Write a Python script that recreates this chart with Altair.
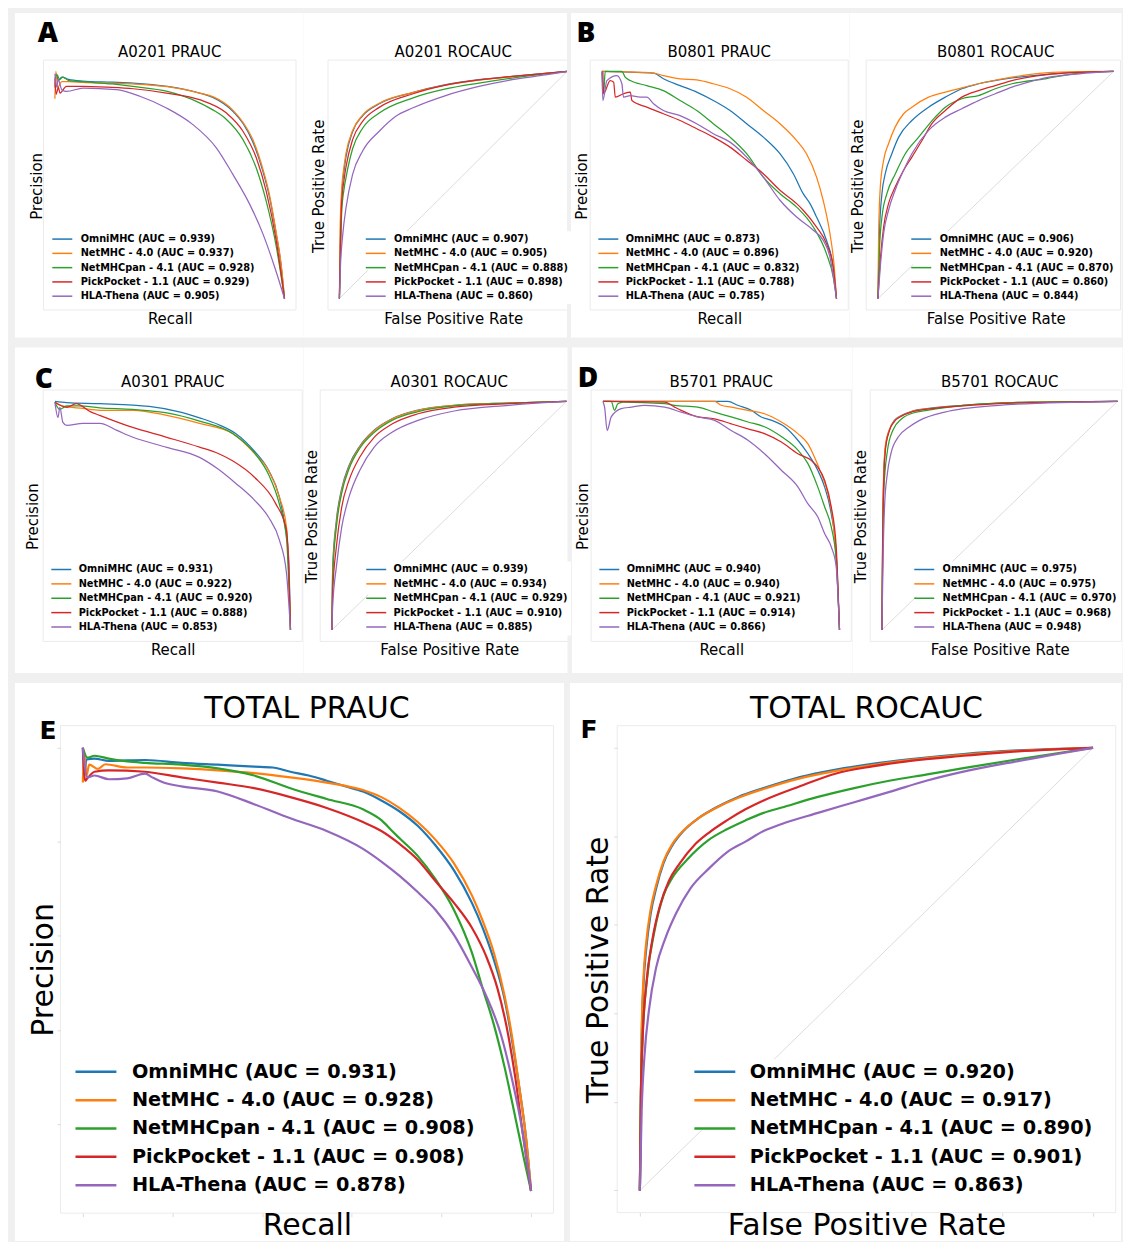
import math
import altair as alt
import pandas as pd

FONT = "DejaVu Sans"
METHODS = ["OmniMHC", "NetMHC - 4.0", "NetMHCpan - 4.1", "PickPocket - 1.1", "HLA-Thena"]
COLORS = ["#1f77b4", "#ff7f0e", "#2ca02c", "#d62728", "#9467bd"]

A_PR_AUC = [0.939, 0.937, 0.928, 0.929, 0.905]
A_ROC_AUC = [0.907, 0.905, 0.888, 0.898, 0.860]
B_PR_AUC = [0.873, 0.896, 0.832, 0.788, 0.785]
B_ROC_AUC = [0.906, 0.920, 0.870, 0.860, 0.844]
C_PR_AUC = [0.931, 0.922, 0.920, 0.888, 0.853]
C_ROC_AUC = [0.939, 0.934, 0.929, 0.910, 0.885]
D_PR_AUC = [0.940, 0.940, 0.921, 0.914, 0.866]
D_ROC_AUC = [0.975, 0.975, 0.970, 0.968, 0.948]
E_PR_AUC = [0.931, 0.928, 0.908, 0.908, 0.878]
F_ROC_AUC = [0.920, 0.917, 0.890, 0.901, 0.863]

# ---------------- A0201 PR (recall, scaled precision) ----------------
A_PR_OMNI = [[0, 0.93], [0.006, 0.99], [0.015, 0.96], [0.03, 0.975], [0.06, 0.965], [0.12, 0.958], [0.25, 0.953], [0.34, 0.949], [0.49, 0.934], [0.63, 0.905], [0.69, 0.885], [0.775, 0.825], [0.82, 0.77], [0.862, 0.69], [0.906, 0.56], [0.935, 0.445], [0.964, 0.285], [0.986, 0.14], [1, 0]]
A_PR_NETMHC = [[0, 0.88], [0.004, 1.0], [0.012, 0.93], [0.03, 0.955], [0.06, 0.955], [0.12, 0.952], [0.25, 0.948], [0.34, 0.945], [0.49, 0.933], [0.63, 0.905], [0.69, 0.888], [0.775, 0.83], [0.82, 0.775], [0.862, 0.70], [0.906, 0.57], [0.935, 0.455], [0.964, 0.29], [0.986, 0.145], [1, 0]]
A_PR_NETMHCPAN = [[0, 0.97], [0.01, 0.985], [0.02, 0.965], [0.035, 0.975], [0.06, 0.96], [0.12, 0.955], [0.25, 0.945], [0.34, 0.934], [0.49, 0.912], [0.63, 0.862], [0.69, 0.83], [0.746, 0.79], [0.819, 0.70], [0.877, 0.575], [0.92, 0.43], [0.964, 0.23], [1, 0]]
A_PR_PICKPOCKET = [[0, 0.97], [0.005, 0.90], [0.015, 0.93], [0.022, 0.905], [0.05, 0.935], [0.12, 0.934], [0.25, 0.93], [0.341, 0.924], [0.486, 0.905], [0.63, 0.876], [0.746, 0.818], [0.819, 0.737], [0.877, 0.62], [0.92, 0.474], [0.964, 0.255], [1, 0]]
A_PR_HLATHENA = [[0, 0.99], [0.008, 0.93], [0.014, 0.965], [0.03, 0.92], [0.051, 0.912], [0.123, 0.927], [0.268, 0.92], [0.37, 0.891], [0.486, 0.839], [0.601, 0.766], [0.703, 0.664], [0.775, 0.547], [0.848, 0.416], [0.906, 0.285], [0.957, 0.139], [1, 0]]

# ---------------- A0201 ROC (fpr, tpr) ----------------
A_ROC_OMNI = [[0, 0], [0.004, 0.25], [0.01, 0.45], [0.02, 0.56], [0.029, 0.625], [0.058, 0.735], [0.102, 0.805], [0.175, 0.858], [0.321, 0.907], [0.467, 0.942], [0.613, 0.964], [0.759, 0.978], [1, 1]]
A_ROC_NETMHC = [[0, 0], [0.003, 0.3], [0.01, 0.48], [0.02, 0.58], [0.029, 0.64], [0.058, 0.74], [0.102, 0.808], [0.175, 0.86], [0.321, 0.907], [0.467, 0.94], [0.613, 0.962], [0.759, 0.977], [1, 1]]
A_ROC_NETMHCPAN = [[0, 0], [0.005, 0.2], [0.01, 0.38], [0.02, 0.48], [0.029, 0.533], [0.058, 0.66], [0.102, 0.75], [0.175, 0.817], [0.321, 0.883], [0.467, 0.923], [0.613, 0.949], [0.759, 0.971], [1, 1]]
A_ROC_PICKPOCKET = [[0, 0], [0.004, 0.22], [0.01, 0.42], [0.02, 0.52], [0.029, 0.58], [0.058, 0.70], [0.102, 0.78], [0.175, 0.842], [0.321, 0.901], [0.467, 0.94], [0.613, 0.963], [0.759, 0.978], [1, 1]]
A_ROC_HLATHENA = [[0, 0], [0.005, 0.15], [0.015, 0.285], [0.029, 0.40], [0.058, 0.547], [0.102, 0.65], [0.175, 0.737], [0.248, 0.803], [0.321, 0.839], [0.467, 0.894], [0.613, 0.934], [0.759, 0.964], [0.905, 0.985], [1, 1]]

# ---------------- B0801 PR ----------------
B_PR_OMNI = [[0, 1.0], [0.121, 0.997], [0.22, 0.993], [0.262, 0.968], [0.333, 0.938], [0.404, 0.909], [0.475, 0.872], [0.546, 0.828], [0.617, 0.77], [0.688, 0.711], [0.759, 0.638], [0.816, 0.55], [0.858, 0.462], [0.887, 0.418], [0.915, 0.359], [0.957, 0.257], [0.986, 0.139], [1, 0]]
B_PR_NETMHC = [[0, 1.0], [0.22, 0.993], [0.262, 0.982], [0.333, 0.968], [0.404, 0.963], [0.475, 0.946], [0.546, 0.924], [0.617, 0.887], [0.688, 0.828], [0.759, 0.77], [0.83, 0.696], [0.872, 0.638], [0.915, 0.535], [0.943, 0.433], [0.972, 0.286], [0.989, 0.154], [1, 0]]
B_PR_NETMHCPAN = [[0, 1.0], [0.007, 0.902], [0.014, 1.0], [0.085, 1.0], [0.099, 0.975], [0.121, 0.96], [0.191, 0.938], [0.262, 0.916], [0.333, 0.872], [0.404, 0.828], [0.475, 0.77], [0.546, 0.711], [0.617, 0.638], [0.688, 0.535], [0.759, 0.462], [0.83, 0.403], [0.901, 0.315], [0.957, 0.198], [0.986, 0.095], [1, 0]]
B_PR_PICKPOCKET = [[0.004, 1.0], [0.007, 0.902], [0.035, 0.96], [0.05, 0.953], [0.057, 0.887], [0.092, 0.902], [0.121, 0.909], [0.128, 0.872], [0.191, 0.843], [0.262, 0.814], [0.333, 0.784], [0.404, 0.748], [0.475, 0.711], [0.546, 0.667], [0.617, 0.609], [0.688, 0.55], [0.759, 0.477], [0.83, 0.418], [0.858, 0.389], [0.915, 0.315], [0.957, 0.242], [0.986, 0.139], [1, 0]]
B_PR_HLATHENA = [[0, 1.0], [0.004, 0.872], [0.021, 0.96], [0.064, 0.982], [0.085, 0.946], [0.092, 0.887], [0.121, 0.894], [0.163, 0.887], [0.191, 0.887], [0.22, 0.858], [0.262, 0.828], [0.333, 0.806], [0.404, 0.77], [0.475, 0.726], [0.546, 0.689], [0.617, 0.623], [0.688, 0.535], [0.759, 0.433], [0.83, 0.359], [0.901, 0.301], [0.943, 0.257], [0.972, 0.183], [1, 0]]

# ---------------- B0801 ROC ----------------
B_ROC_OMNI = [[0, 0], [0.006, 0.286], [0.017, 0.462], [0.031, 0.55], [0.059, 0.638], [0.088, 0.711], [0.144, 0.784], [0.215, 0.843], [0.286, 0.887], [0.356, 0.924], [0.427, 0.946], [0.569, 0.972], [0.71, 0.987], [0.854, 0.997], [1, 1]]
B_ROC_NETMHC = [[0, 0], [0.003, 0.286], [0.01, 0.491], [0.024, 0.609], [0.045, 0.682], [0.073, 0.755], [0.109, 0.814], [0.144, 0.843], [0.215, 0.887], [0.286, 0.909], [0.356, 0.928], [0.427, 0.946], [0.569, 0.975], [0.71, 0.994], [0.854, 0.999], [1, 1]]
B_ROC_NETMHCPAN = [[0, 0], [0.007, 0.227], [0.017, 0.359], [0.038, 0.462], [0.074, 0.55], [0.116, 0.638], [0.173, 0.711], [0.243, 0.799], [0.286, 0.843], [0.356, 0.88], [0.427, 0.894], [0.498, 0.924], [0.569, 0.946], [0.71, 0.968], [0.854, 0.993], [1, 1]]
B_ROC_PICKPOCKET = [[0, 0], [0.01, 0.169], [0.024, 0.315], [0.045, 0.418], [0.073, 0.491], [0.109, 0.565], [0.144, 0.623], [0.187, 0.696], [0.229, 0.77], [0.286, 0.828], [0.356, 0.887], [0.427, 0.916], [0.498, 0.938], [0.569, 0.96], [0.71, 0.985], [0.854, 0.996], [1, 1]]
B_ROC_HLATHENA = [[0, 0], [0.01, 0.139], [0.024, 0.286], [0.045, 0.389], [0.073, 0.477], [0.109, 0.565], [0.144, 0.638], [0.215, 0.741], [0.286, 0.799], [0.356, 0.836], [0.427, 0.872], [0.498, 0.902], [0.569, 0.931], [0.639, 0.953], [0.71, 0.972], [0.854, 0.99], [1, 1]]

# ---------------- A0301 PR ----------------
C_PR_OMNI = [[0, 1.0], [0.05, 0.995], [0.19, 0.99], [0.40, 0.978], [0.538, 0.952], [0.614, 0.928], [0.691, 0.90], [0.767, 0.86], [0.847, 0.782], [0.907, 0.699], [0.953, 0.581], [0.975, 0.467], [0.992, 0.319], [1, 0]]
C_PR_NETMHC = [[0, 0.996], [0.03, 0.98], [0.119, 0.969], [0.191, 0.961], [0.331, 0.961], [0.475, 0.939], [0.614, 0.904], [0.754, 0.86], [0.847, 0.773], [0.907, 0.699], [0.953, 0.581], [0.983, 0.45], [1, 0]]
C_PR_NETMHCPAN = [[0, 0.996], [0.02, 0.965], [0.05, 0.98], [0.10, 0.98], [0.19, 0.972], [0.33, 0.965], [0.475, 0.95], [0.614, 0.914], [0.754, 0.86], [0.847, 0.775], [0.907, 0.68], [0.953, 0.55], [0.983, 0.40], [1, 0]]
C_PR_PICKPOCKET = [[0, 0.996], [0.05, 0.974], [0.09, 0.99], [0.15, 0.955], [0.19, 0.939], [0.33, 0.886], [0.475, 0.843], [0.614, 0.80], [0.691, 0.773], [0.754, 0.74], [0.847, 0.668], [0.936, 0.555], [0.983, 0.437], [0.995, 0.2], [1, 0]]
C_PR_HLATHENA = [[0, 0.996], [0.013, 0.93], [0.021, 0.974], [0.034, 0.908], [0.05, 0.895], [0.119, 0.904], [0.191, 0.904], [0.263, 0.873], [0.331, 0.843], [0.475, 0.799], [0.614, 0.755], [0.691, 0.705], [0.767, 0.642], [0.847, 0.568], [0.907, 0.493], [0.953, 0.393], [0.983, 0.249], [1, 0]]

# ---------------- A0301 ROC ----------------
C_ROC_OMNI = [[0, 0], [0.003, 0.27], [0.019, 0.48], [0.042, 0.62], [0.073, 0.72], [0.119, 0.805], [0.181, 0.875], [0.258, 0.925], [0.367, 0.962], [0.521, 0.983], [0.754, 0.993], [1, 1]]
C_ROC_NETMHC = [[0, 0], [0.003, 0.25], [0.019, 0.466], [0.042, 0.611], [0.073, 0.713], [0.119, 0.801], [0.181, 0.873], [0.258, 0.924], [0.367, 0.961], [0.521, 0.983], [0.754, 0.993], [1, 1]]
C_ROC_NETMHCPAN = [[0, 0], [0.003, 0.23], [0.019, 0.45], [0.042, 0.60], [0.073, 0.705], [0.119, 0.795], [0.181, 0.865], [0.258, 0.918], [0.367, 0.955], [0.521, 0.98], [0.754, 0.992], [1, 1]]
C_ROC_PICKPOCKET = [[0, 0], [0.003, 0.16], [0.019, 0.364], [0.042, 0.539], [0.073, 0.655], [0.119, 0.757], [0.181, 0.844], [0.258, 0.902], [0.367, 0.946], [0.521, 0.975], [0.754, 0.99], [1, 1]]
C_ROC_HLATHENA = [[0, 0], [0.003, 0.10], [0.019, 0.276], [0.042, 0.451], [0.073, 0.582], [0.119, 0.699], [0.181, 0.801], [0.258, 0.866], [0.367, 0.917], [0.521, 0.958], [0.754, 0.983], [1, 1]]

# ---------------- B5701 PR ----------------
D_PR_OMNI = [[0, 1.0], [0.528, 1.0], [0.57, 0.983], [0.627, 0.961], [0.669, 0.932], [0.711, 0.918], [0.768, 0.889], [0.824, 0.83], [0.866, 0.772], [0.908, 0.699], [0.937, 0.626], [0.965, 0.509], [0.986, 0.335], [1, 0]]
D_PR_NETMHC = [[0, 1.0], [0.472, 1.0], [0.5, 0.983], [0.542, 0.975], [0.613, 0.961], [0.683, 0.946], [0.754, 0.91], [0.824, 0.859], [0.866, 0.815], [0.894, 0.757], [0.923, 0.684], [0.951, 0.597], [0.972, 0.48], [0.986, 0.32], [1, 0]]
D_PR_NETMHCPAN = [[0, 1.0], [0.035, 1.0], [0.049, 0.961], [0.063, 0.99], [0.085, 0.997], [0.261, 0.99], [0.303, 0.983], [0.401, 0.975], [0.472, 0.953], [0.542, 0.932], [0.613, 0.91], [0.683, 0.889], [0.754, 0.846], [0.824, 0.787], [0.866, 0.729], [0.908, 0.626], [0.937, 0.539], [0.965, 0.451], [0.986, 0.306], [1, 0]]
D_PR_PICKPOCKET = [[0, 1.0], [0.261, 0.997], [0.303, 0.975], [0.331, 0.961], [0.401, 0.932], [0.472, 0.924], [0.542, 0.902], [0.613, 0.88], [0.683, 0.859], [0.754, 0.822], [0.824, 0.771], [0.88, 0.742], [0.908, 0.713], [0.937, 0.655], [0.965, 0.539], [0.986, 0.364], [1, 0]]
D_PR_HLATHENA = [[0, 1.0], [0.007, 0.975], [0.018, 0.873], [0.035, 0.932], [0.077, 0.968], [0.12, 0.975], [0.176, 0.983], [0.261, 0.975], [0.331, 0.953], [0.401, 0.932], [0.472, 0.917], [0.542, 0.873], [0.613, 0.83], [0.683, 0.771], [0.754, 0.699], [0.824, 0.626], [0.866, 0.553], [0.908, 0.495], [0.937, 0.422], [0.965, 0.364], [0.986, 0.277], [1, 0]]

# ---------------- B5701 ROC ----------------
D_ROC_OMNI = [[0, 0], [0.003, 0.393], [0.008, 0.684], [0.015, 0.80], [0.031, 0.873], [0.053, 0.917], [0.084, 0.939], [0.13, 0.958], [0.191, 0.968], [0.344, 0.983], [0.496, 0.993], [0.649, 0.997], [1, 1]]
D_ROC_NETMHC = [[0, 0], [0.003, 0.42], [0.008, 0.70], [0.015, 0.81], [0.031, 0.875], [0.053, 0.915], [0.084, 0.937], [0.13, 0.957], [0.191, 0.967], [0.344, 0.982], [0.496, 0.993], [0.649, 0.997], [1, 1]]
D_ROC_NETMHCPAN = [[0, 0], [0.003, 0.32], [0.008, 0.61], [0.023, 0.782], [0.046, 0.873], [0.084, 0.924], [0.145, 0.953], [0.191, 0.961], [0.344, 0.983], [0.496, 0.993], [1, 1]]
D_ROC_PICKPOCKET = [[0, 0], [0.003, 0.36], [0.008, 0.66], [0.015, 0.79], [0.031, 0.87], [0.053, 0.912], [0.084, 0.936], [0.13, 0.955], [0.191, 0.966], [0.344, 0.98], [0.496, 0.99], [0.649, 0.995], [0.85, 0.998], [1, 1]]
D_ROC_HLATHENA = [[0, 0], [0.005, 0.32], [0.011, 0.539], [0.023, 0.684], [0.038, 0.771], [0.069, 0.844], [0.115, 0.888], [0.16, 0.917], [0.267, 0.953], [0.344, 0.968], [0.496, 0.983], [0.802, 0.996], [1, 1]]

# ---------------- TOTAL PR (recall, precision) ----------------
E_PR_OMNI = [[0, 1.0], [0.003, 0.94], [0.008, 0.975], [0.026, 0.977], [0.058, 0.972], [0.139, 0.974], [0.22, 0.968], [0.301, 0.964], [0.382, 0.96], [0.423, 0.958], [0.463, 0.949], [0.504, 0.941], [0.544, 0.93], [0.585, 0.918], [0.625, 0.907], [0.666, 0.888], [0.706, 0.865], [0.747, 0.834], [0.787, 0.792], [0.828, 0.739], [0.868, 0.67], [0.892, 0.617], [0.917, 0.549], [0.941, 0.465], [0.957, 0.381], [0.973, 0.282], [0.989, 0.168], [1, 0.057]]
E_PR_NETMHC = [[0, 0.926], [0.003, 0.99], [0.008, 0.94], [0.014, 0.964], [0.034, 0.955], [0.05, 0.965], [0.099, 0.958], [0.139, 0.958], [0.22, 0.956], [0.301, 0.952], [0.382, 0.946], [0.463, 0.937], [0.544, 0.926], [0.625, 0.91], [0.666, 0.895], [0.706, 0.872], [0.747, 0.842], [0.787, 0.804], [0.828, 0.754], [0.868, 0.686], [0.892, 0.632], [0.917, 0.564], [0.941, 0.472], [0.957, 0.389], [0.973, 0.282], [0.989, 0.168], [1, 0.057]]
E_PR_NETMHCPAN = [[0, 1.0], [0.01, 0.979], [0.026, 0.983], [0.058, 0.977], [0.099, 0.971], [0.139, 0.968], [0.22, 0.964], [0.301, 0.956], [0.382, 0.941], [0.463, 0.914], [0.544, 0.891], [0.625, 0.869], [0.666, 0.846], [0.69, 0.823], [0.706, 0.808], [0.747, 0.77], [0.787, 0.72], [0.828, 0.655], [0.868, 0.564], [0.892, 0.488], [0.917, 0.411], [0.941, 0.32], [0.965, 0.213], [0.985, 0.122], [1, 0.057]]
E_PR_PICKPOCKET = [[0, 1.0], [0.005, 0.93], [0.01, 0.935], [0.026, 0.949], [0.058, 0.952], [0.139, 0.949], [0.22, 0.937], [0.301, 0.926], [0.382, 0.914], [0.463, 0.895], [0.544, 0.872], [0.625, 0.842], [0.666, 0.823], [0.706, 0.796], [0.747, 0.762], [0.787, 0.716], [0.828, 0.67], [0.868, 0.617], [0.9, 0.556], [0.925, 0.488], [0.949, 0.389], [0.965, 0.297], [0.981, 0.183], [1, 0.057]]
E_PR_HLATHENA = [[0, 1.0], [0.01, 0.937], [0.026, 0.941], [0.058, 0.933], [0.099, 0.935], [0.139, 0.945], [0.155, 0.937], [0.18, 0.926], [0.22, 0.918], [0.301, 0.907], [0.382, 0.88], [0.463, 0.85], [0.544, 0.823], [0.625, 0.785], [0.666, 0.758], [0.706, 0.728], [0.747, 0.693], [0.787, 0.655], [0.828, 0.602], [0.868, 0.533], [0.9, 0.472], [0.933, 0.389], [0.957, 0.297], [0.981, 0.183], [1, 0.057]]

# ---------------- TOTAL ROC ----------------
F_ROC_OMNI = [[0, 0], [0.002, 0.181], [0.004, 0.343], [0.008, 0.464], [0.014, 0.545], [0.024, 0.626], [0.036, 0.683], [0.052, 0.739], [0.072, 0.78], [0.096, 0.812], [0.128, 0.84], [0.168, 0.865], [0.217, 0.889], [0.273, 0.909], [0.353, 0.934], [0.433, 0.951], [0.513, 0.964], [0.593, 0.974], [0.714, 0.986], [0.834, 0.994], [1, 1]]
F_ROC_NETMHC = [[0, 0], [0.002, 0.19], [0.004, 0.36], [0.008, 0.48], [0.014, 0.56], [0.024, 0.636], [0.036, 0.69], [0.052, 0.743], [0.072, 0.783], [0.096, 0.813], [0.128, 0.84], [0.168, 0.864], [0.217, 0.887], [0.273, 0.907], [0.353, 0.931], [0.433, 0.948], [0.513, 0.961], [0.593, 0.972], [0.714, 0.984], [0.834, 0.993], [1, 1]]
F_ROC_NETMHCPAN = [[0, 0], [0.0024, 0.221], [0.006, 0.343], [0.016, 0.48], [0.032, 0.585], [0.052, 0.666], [0.072, 0.707], [0.104, 0.747], [0.152, 0.792], [0.192, 0.816], [0.233, 0.836], [0.273, 0.853], [0.313, 0.865], [0.393, 0.889], [0.473, 0.909], [0.553, 0.926], [0.634, 0.94], [0.714, 0.954], [0.834, 0.974], [1, 1]]
F_ROC_PICKPOCKET = [[0, 0], [0.0024, 0.221], [0.006, 0.343], [0.014, 0.464], [0.028, 0.569], [0.044, 0.642], [0.064, 0.699], [0.088, 0.739], [0.12, 0.78], [0.152, 0.808], [0.192, 0.836], [0.233, 0.861], [0.273, 0.881], [0.353, 0.913], [0.433, 0.942], [0.513, 0.958], [0.593, 0.97], [0.714, 0.982], [0.834, 0.992], [1, 1]]
F_ROC_HLATHENA = [[0, 0], [0.004, 0.181], [0.01, 0.302], [0.02, 0.407], [0.036, 0.504], [0.056, 0.569], [0.08, 0.626], [0.112, 0.683], [0.152, 0.727], [0.192, 0.764], [0.233, 0.788], [0.273, 0.812], [0.313, 0.828], [0.393, 0.853], [0.473, 0.877], [0.553, 0.901], [0.634, 0.926], [0.714, 0.946], [0.834, 0.97], [1, 1]]

DIAG = [[0, 0], [1, 1]]
TICKS01 = [0, 0.2, 0.4, 0.6, 0.8, 1.0]
E_YTICKS = [0.2, 0.4, 0.6, 0.8, 1.0]

# ---------------- layout (page pixel positions; svg spans page x 8..1123, y 8..1242) ----------------
# view = (left, top, width, height); bg = white panel box inside the view (x0, x1, y0)
R1Y = (298.0, 70.5)
R2Y = (630.0, 401.0)
GEOM = {
    "A_pr": dict(view=(8, 8, 296, 329), bg=(7, 296, 4), xmap=(55, 285), ymap=R1Y, title=("A0201 PRAUC", 170, 51),
                 xt=("Recall", 170, 318), yt=("Precision", 37, 185), legend=(53, 82, 239, 14.3)),
    "A_roc": dict(view=(304, 8, 264, 329), bg=(0, 264, 4), xmap=(340, 568), ymap=R1Y, title=("A0201 ROCAUC", 454, 51),
                  xt=("False Positive Rate", 454, 318), yt=("True Positive Rate", 319, 185), legend=(367, 396, 239, 14.3)),
    "B_pr": dict(view=(568, 8, 282.5, 329), bg=(4, 282.5, 4), xmap=(603, 838), ymap=R1Y, title=("B0801 PRAUC", 720.5, 51),
                 xt=("Recall", 720.5, 318), yt=("Precision", 583, 185), legend=(600, 628, 239, 14.3)),
    "B_roc": dict(view=(850.5, 8, 272.5, 329), bg=(0, 272.5, 4), xmap=(879, 1115), ymap=R1Y, title=("B0801 ROCAUC", 997, 51),
                  xt=("False Positive Rate", 997, 318), yt=("True Positive Rate", 858.5, 185), legend=(913, 942, 239, 14.3)),
    "C_pr": dict(view=(8, 345, 295.5, 328), bg=(7, 295.5, 2), xmap=(55, 291), ymap=R2Y, title=("A0301 PRAUC", 173, 381.5),
                 xt=("Recall", 173, 650), yt=("Precision", 33, 516), legend=(52, 80, 570, 14.4)),
    "C_roc": dict(view=(303.5, 345, 264.5, 328), bg=(0, 264.5, 2), xmap=(332, 567), ymap=R2Y, title=("A0301 ROCAUC", 449.5, 381.5),
                  xt=("False Positive Rate", 449.5, 650), yt=("True Positive Rate", 311.5, 516), legend=(367, 395, 570, 14.4)),
    "D_pr": dict(view=(568, 345, 284.5, 328), bg=(4, 284.5, 2), xmap=(603, 840), ymap=R2Y, title=("B5701 PRAUC", 721.5, 381.5),
                 xt=("Recall", 721.5, 650), yt=("Precision", 583, 516), legend=(600, 628, 570, 14.4)),
    "D_roc": dict(view=(852.5, 345, 270.5, 328), bg=(0, 270.5, 2), xmap=(882, 1118), ymap=R2Y, title=("B5701 ROCAUC", 1000, 381.5),
                  xt=("False Positive Rate", 1000, 650), yt=("True Positive Rate", 861, 516), legend=(915, 944, 570, 14.4)),
    "E": dict(view=(8, 681, 560, 561), bg=(7, 557, 2), xmap=(83, 532), ymap=(1192.0, 748.0), yvals=(0.057, 1.0),
              title=("TOTAL PRAUC", 307.5, 709), xt=("Recall", 307.5, 1226.5), yt=("Precision", 44, 970),
              legend=(76, 133, 1073, 28.5)),
    "F": dict(view=(568, 681, 555, 561), bg=(3, 555, 2), xmap=(641, 1095), ymap=(1191.5, 748.0),
              title=("TOTAL ROCAUC", 868, 709), xt=("False Positive Rate", 868, 1226.5), yt=("True Positive Rate", 600, 970),
              legend=(696, 752, 1073, 28.5)),
}


def curve_frame(curves, aucs):
    labels = [f"{m} (AUC = {a:.3f})" for m, a in zip(METHODS, aucs)]
    rows = []
    for lab, pts in zip(labels, curves):
        for i, (x, y) in enumerate(pts):
            rows.append({"x": x, "y": y, "label": lab, "i": i})
    return pd.DataFrame(rows), labels


def text_layer(t, px, py, ox, oy, font, size, weight):
    return alt.Chart(pd.DataFrame({"t": [t]})).mark_text(
        font=font, fontSize=size, fontWeight=weight, color="black", align="center", baseline="middle"
    ).encode(text="t:N", x=alt.value(px - ox), y=alt.value(py - oy))


def make_cell(key, curves, aucs, roc, big=False, letter=None):
    g = GEOM[key]
    ox, oy, W, H = g["view"]
    px0, px1 = g["xmap"]
    py0, py1 = g["ymap"]
    ylo, yhi = g.get("yvals", (0.0, 1.0))
    kx = float(px1 - px0)
    ky = (py0 - py1) / (yhi - ylo)
    xdom = [(ox - px0) / kx, (ox + W - px0) / kx]
    ydom = [ylo + (py0 - (oy + H)) / ky, ylo + (py0 - oy) / ky]
    m = 0.05 * (yhi - ylo)
    fl = px0 - 0.05 * kx
    fb = py0 + m * ky

    fs_t = 30 if big else 15
    fs_a = 30 if big else 15
    fs_l = 19.3 if big else 9.8
    ent_h = 20.1 if big else 11.0
    lw = 2.2 if big else 1.25
    sw = 2.5 if big else 1.5
    L = 41.0 if big else 20.0

    if big:
        xoff, yoff, xax_y, yax_x = fb - (oy + H), -(fl - ox), fb, fl
    else:
        xoff, yoff, xax_y, yax_x = 0, 0, oy + H, ox

    common = dict(labels=False, domain=False, grid=False, minExtent=0, maxExtent=0, zindex=1,
                  titleFont=FONT, titleFontSize=fs_a, titleFontWeight="normal", titleColor="black",
                  titleBaseline="middle", titleAlign="center")
    if big:
        common.update(ticks=True, tickColor="#d4d4d4", tickSize=3.5, tickWidth=0.8)
    else:
        common.update(ticks=False)
    xt, xtx, xty = g["xt"]
    yt, ytx, yty = g["yt"]
    xkw = dict(common)
    ykw = dict(common)
    if big:
        xkw["values"] = TICKS01
        ykw["values"] = TICKS01 if roc else E_YTICKS
    xaxis = alt.Axis(title=xt, offset=xoff, titleX=xtx - ox, titleY=xty - xax_y, titleAngle=0, **xkw)
    yaxis = alt.Axis(title=yt, offset=yoff, titleX=ytx - yax_x, titleY=yty - oy, titleAngle=270, **ykw)

    ls, lx, r0, rs = g["legend"]
    ssize = (L / 4.0) ** 2
    pad = 3.0
    c = ls + L / 2.0
    legend = alt.Legend(title=None, orient="none", legendX=c - pad - ent_h / 2 - ox, legendY=r0 - pad - ent_h / 2 - oy,
                        symbolType="M-4,0L4,0", symbolSize=ssize, symbolStrokeWidth=sw, symbolOffset=0,
                        labelFont=FONT, labelFontSize=fs_l, labelFontWeight="bold", labelColor="black",
                        labelOffset=lx - c - ent_h / 2, rowPadding=rs - ent_h, padding=pad, fillColor="white",
                        labelLimit=800)

    xs = alt.Scale(domain=xdom, nice=False, zero=False)
    ys = alt.Scale(domain=ydom, nice=False, zero=False)
    X = alt.X("x:Q", scale=xs, axis=xaxis)
    Y = alt.Y("y:Q", scale=ys, axis=yaxis)

    b0, b1, bt = g["bg"]
    layers = [alt.Chart(pd.DataFrame({"p": [0]})).mark_rect(color="white").encode(
        x=alt.value(b0), x2=alt.value(b1), y=alt.value(bt), y2=alt.value(H))]
    # faint axes frame (kept inside the cell on the right-hand edge of the figure)
    fx2 = min(1.05, xdom[1] - 1.0 / kx) if ox + W > 1100 else 1.05
    frame_df = pd.DataFrame({"x": [-0.05], "x2": [fx2], "y": [ylo - m], "y2": [yhi + m]})
    layers.append(alt.Chart(frame_df).mark_rect(fill="transparent", stroke="#ebebeb", strokeWidth=1, clip=True)
                  .encode(x=X, x2="x2:Q", y=Y, y2="y2:Q"))
    if roc:
        layers.append(alt.Chart(pd.DataFrame(DIAG, columns=["x", "y"]))
                      .mark_line(color="#dcdcdc", strokeWidth=1, clip=True).encode(x=X, y=Y))
    df, labels = curve_frame(curves, aucs)
    layers.append(alt.Chart(df).mark_line(strokeWidth=lw, clip=True, interpolate="monotone").encode(
        x=X, y=Y,
        color=alt.Color("label:N", scale=alt.Scale(domain=labels, range=COLORS), legend=legend),
        order="i:Q"))
    tt, ttx, tty = g["title"]
    layers.append(text_layer(tt, ttx, tty, ox, oy, FONT, fs_t, "normal"))
    if letter:
        t, tx, ty, tfont, tsize, tweight = letter
        layers.append(text_layer(t, tx, ty, ox, oy, tfont, tsize, tweight))
    return alt.layer(*layers).properties(width=W, height=H)


def row(*charts):
    return (alt.hconcat(*charts, spacing=0, bounds="flush")
            .resolve_scale(x="independent", y="independent", color="independent")
            .resolve_legend(color="independent"))


LET = ("Open Sans", 28, 800)
A_pr = make_cell("A_pr", [A_PR_OMNI, A_PR_NETMHC, A_PR_NETMHCPAN, A_PR_PICKPOCKET, A_PR_HLATHENA], A_PR_AUC, False,
                 letter=("A", 48, 33) + LET)
A_roc = make_cell("A_roc", [A_ROC_OMNI, A_ROC_NETMHC, A_ROC_NETMHCPAN, A_ROC_PICKPOCKET, A_ROC_HLATHENA], A_ROC_AUC, True)
B_pr = make_cell("B_pr", [B_PR_OMNI, B_PR_NETMHC, B_PR_NETMHCPAN, B_PR_PICKPOCKET, B_PR_HLATHENA], B_PR_AUC, False,
                 letter=("B", 587, 33) + LET)
B_roc = make_cell("B_roc", [B_ROC_OMNI, B_ROC_NETMHC, B_ROC_NETMHCPAN, B_ROC_PICKPOCKET, B_ROC_HLATHENA], B_ROC_AUC, True)
C_pr = make_cell("C_pr", [C_PR_OMNI, C_PR_NETMHC, C_PR_NETMHCPAN, C_PR_PICKPOCKET, C_PR_HLATHENA], C_PR_AUC, False,
                 letter=("C", 44, 380) + LET)
C_roc = make_cell("C_roc", [C_ROC_OMNI, C_ROC_NETMHC, C_ROC_NETMHCPAN, C_ROC_PICKPOCKET, C_ROC_HLATHENA], C_ROC_AUC, True)
D_pr = make_cell("D_pr", [D_PR_OMNI, D_PR_NETMHC, D_PR_NETMHCPAN, D_PR_PICKPOCKET, D_PR_HLATHENA], D_PR_AUC, False,
                 letter=("D", 588, 379) + LET)
D_roc = make_cell("D_roc", [D_ROC_OMNI, D_ROC_NETMHC, D_ROC_NETMHCPAN, D_ROC_PICKPOCKET, D_ROC_HLATHENA], D_ROC_AUC, True)
E = make_cell("E", [E_PR_OMNI, E_PR_NETMHC, E_PR_NETMHCPAN, E_PR_PICKPOCKET, E_PR_HLATHENA], E_PR_AUC, False, big=True,
              letter=("E", 48, 731, FONT, 25, "bold"))
F = make_cell("F", [F_ROC_OMNI, F_ROC_NETMHC, F_ROC_NETMHCPAN, F_ROC_PICKPOCKET, F_ROC_HLATHENA], F_ROC_AUC, True, big=True,
              letter=("F", 590, 730, FONT, 25, "bold"))

chart = (alt.vconcat(row(A_pr, A_roc, B_pr, B_roc), row(C_pr, C_roc, D_pr, D_roc), row(E, F), spacing=8)
         .resolve_scale(x="independent", y="independent", color="independent")
         .resolve_legend(color="independent")
         .properties(padding=0, background="#f0f0f0")
         .configure_view(stroke="transparent", strokeWidth=0))

chart.save("out.html", embed_options={"renderer": "svg", "actions": False})
